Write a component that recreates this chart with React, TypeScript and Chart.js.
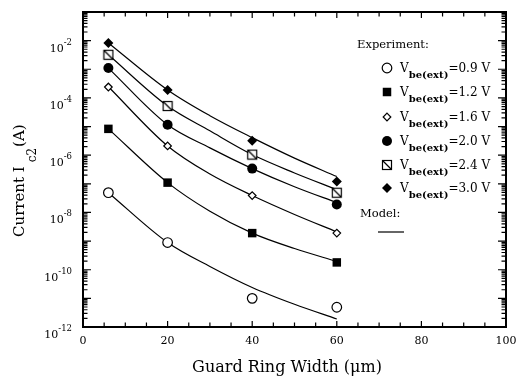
import React, { useEffect, useRef } from 'react';
import { Chart, registerables } from 'chart.js';

Chart.register(...registerables);

// ---- data ----
const guardWidths = [6, 20, 40, 60];
const ic2_09 = [4.9e-8, 8.9e-10, 1.0e-11, 4.9e-12];
const ic2_12 = [8.3e-6, 1.1e-7, 1.9e-9, 1.8e-10];
const ic2_16 = [2.4e-4, 2.1e-6, 3.9e-8, 1.9e-9];
const ic2_20 = [1.1e-3, 1.15e-5, 3.4e-7, 1.9e-8];
const ic2_24 = [3.2e-3, 5.2e-5, 1.05e-6, 4.9e-8];
const ic2_30 = [8.3e-3, 1.9e-4, 3.2e-6, 1.2e-7];

const modelWidths = [6, 20, 30, 40, 50, 60];
const model_09 = [4.9e-8, 8.9e-10, 1.3e-10, 2.4e-11, 6.2e-12, 1.9e-12];
const model_12 = [8.3e-6, 1.1e-7, 1.1e-8, 1.9e-9, 5.5e-10, 1.95e-10];
const model_16 = [2.45e-4, 2.1e-6, 2.2e-7, 3.9e-8, 8.5e-9, 2.1e-9];
const model_20 = [1.1e-3, 1.15e-5, 1.8e-6, 3.4e-7, 7.9e-8, 2.2e-8];
const model_24 = [3.2e-3, 5.2e-5, 7.1e-6, 1.05e-6, 2.4e-7, 6.3e-8];
const model_30 = [8.3e-3, 1.9e-4, 2.4e-5, 4.1e-6, 7.9e-7, 1.8e-7];

const voltageLabels = ['0.9', '1.2', '1.6', '2.0', '2.4', '3.0'];
const xTickLabels = [0, 20, 40, 60, 80, 100];
const yTickExponents = [-12, -10, -8, -6, -4, -2];

const SERIF = '"DejaVu Serif", serif';

type Kind = 'circleOpen' | 'squareFilled' | 'diamondOpen' | 'circleFilled' | 'boxSlash' | 'diamondFilled';
const kinds: Kind[] = ['circleOpen', 'squareFilled', 'diamondOpen', 'circleFilled', 'boxSlash', 'diamondFilled'];

const BOX = 10;
function makeBoxSlash(): HTMLCanvasElement {
  const c = document.createElement('canvas');
  c.width = BOX + 2;
  c.height = BOX + 2;
  const g = c.getContext('2d')!;
  g.fillStyle = '#fff';
  g.fillRect(1, 1, BOX, BOX);
  g.strokeStyle = '#000';
  g.lineWidth = 1.2;
  g.strokeRect(1.5, 1.5, BOX - 1, BOX - 1);
  g.beginPath();
  g.moveTo(1.5, 1.5);
  g.lineTo(BOX + 0.5, BOX + 0.5);
  g.stroke();
  return c;
}

function drawMarker(ctx: CanvasRenderingContext2D, kind: Kind, x: number, y: number, box: HTMLCanvasElement) {
  ctx.save();
  ctx.strokeStyle = '#000';
  ctx.lineWidth = 1.2;
  ctx.beginPath();
  if (kind === 'circleOpen') {
    ctx.arc(x, y, 4.8, 0, Math.PI * 2);
    ctx.fillStyle = '#fff';
    ctx.fill();
    ctx.stroke();
  } else if (kind === 'circleFilled') {
    ctx.arc(x, y, 5, 0, Math.PI * 2);
    ctx.fillStyle = '#000';
    ctx.fill();
  } else if (kind === 'squareFilled') {
    const s = 6 * Math.SQRT1_2;
    ctx.fillStyle = '#000';
    ctx.fillRect(x - s, y - s, 2 * s, 2 * s);
  } else if (kind === 'diamondOpen' || kind === 'diamondFilled') {
    const r = kind === 'diamondOpen' ? 3.8 : 5;
    ctx.moveTo(x, y - r);
    ctx.lineTo(x + r, y);
    ctx.lineTo(x, y + r);
    ctx.lineTo(x - r, y);
    ctx.closePath();
    if (kind === 'diamondOpen') {
      ctx.fillStyle = '#fff';
      ctx.fill();
      ctx.stroke();
    } else {
      ctx.fillStyle = '#000';
      ctx.fill();
    }
  } else if (kind === 'boxSlash') {
    ctx.drawImage(box, Math.round(x - box.width / 2), Math.round(y - box.height / 2));
  }
  ctx.restore();
}

function pointStyleFor(kind: Kind, box: HTMLCanvasElement) {
  switch (kind) {
    case 'circleOpen':
      return { pointStyle: 'circle', pointRadius: 4.8, pointBackgroundColor: '#fff', pointBorderColor: '#000', pointBorderWidth: 1.2 };
    case 'circleFilled':
      return { pointStyle: 'circle', pointRadius: 5, pointBackgroundColor: '#000', pointBorderColor: '#000', pointBorderWidth: 0 };
    case 'squareFilled':
      return { pointStyle: 'rect', pointRadius: 6, pointBackgroundColor: '#000', pointBorderColor: '#000', pointBorderWidth: 0 };
    case 'diamondOpen':
      return { pointStyle: 'rectRot', pointRadius: 3.8, pointBackgroundColor: '#fff', pointBorderColor: '#000', pointBorderWidth: 1.2 };
    case 'diamondFilled':
      return { pointStyle: 'rectRot', pointRadius: 5, pointBackgroundColor: '#000', pointBorderColor: '#000', pointBorderWidth: 0 };
    default:
      return { pointStyle: box, pointRadius: 5, pointBorderWidth: 0 };
  }
}

export default function App() {
  const ref = useRef<HTMLCanvasElement | null>(null);

  useEffect(() => {
    const canvas = ref.current;
    if (!canvas) return;
    const box = makeBoxSlash();

    const expSeries = [ic2_09, ic2_12, ic2_16, ic2_20, ic2_24, ic2_30];
    const modelSeries = [model_09, model_12, model_16, model_20, model_24, model_30];

    const datasets: any[] = [];
    modelSeries.forEach((vals, i) => {
      datasets.push({
        label: 'Model ' + voltageLabels[i],
        data: modelWidths.map((x, j) => ({ x, y: vals[j] })),
        showLine: true,
        borderColor: '#000',
        borderWidth: 1.2,
        pointRadius: 0,
        cubicInterpolationMode: 'monotone',
        order: 2,
      });
    });
    expSeries.forEach((vals, i) => {
      datasets.push({
        label: 'Vbe(ext)=' + voltageLabels[i] + ' V',
        data: guardWidths.map((x, j) => ({ x, y: vals[j] })),
        showLine: false,
        order: 1,
        ...pointStyleFor(kinds[i], box),
      });
    });

    const decor = {
      id: 'decor',
      afterDraw(chart: any) {
        const ctx: CanvasRenderingContext2D = chart.ctx;
        const { left, right, top, bottom } = chart.chartArea;
        const xs = chart.scales.x;
        const ys = chart.scales.y;
        ctx.save();
        ctx.strokeStyle = '#000';
        ctx.fillStyle = '#000';

        // frame
        ctx.lineWidth = 2;
        ctx.strokeRect(left, top, right - left, bottom - top);

        // y ticks (log, both sides, inward)
        ctx.lineWidth = 1.2;
        for (let e = -12; e <= -1; e++) {
          const p = ys.getPixelForValue(Math.pow(10, e));
          ctx.beginPath();
          ctx.moveTo(left, p); ctx.lineTo(left + 8, p);
          ctx.moveTo(right, p); ctx.lineTo(right - 8, p);
          ctx.stroke();
          if (e < -1) {
            for (let k = 2; k <= 9; k++) {
              const q = ys.getPixelForValue(k * Math.pow(10, e));
              ctx.beginPath();
              ctx.moveTo(left, q); ctx.lineTo(left + 4.5, q);
              ctx.moveTo(right, q); ctx.lineTo(right - 4.5, q);
              ctx.stroke();
            }
          }
        }
        // x ticks (bottom and top, inward)
        for (let v = 0; v <= 100; v += 5) {
          const p = xs.getPixelForValue(v);
          const len = v % 20 === 0 ? 6 : 4.5;
          ctx.beginPath();
          ctx.moveTo(p, bottom); ctx.lineTo(p, bottom - len);
          ctx.moveTo(p, top); ctx.lineTo(p, top + len);
          ctx.stroke();
        }

        // y tick labels 10^n
        ctx.textAlign = 'right';
        ctx.textBaseline = 'alphabetic';
        yTickExponents.forEach((e) => {
          const p = ys.getPixelForValue(Math.pow(10, e));
          const sup = String(e).replace('-', '-');
          ctx.font = '8.5px ' + SERIF;
          const supW = ctx.measureText(sup).width;
          const xr = left - 11;
          ctx.fillText(sup, xr, p + 4);
          ctx.font = '11px ' + SERIF;
          ctx.fillText('10', xr - supW, p + 11);
        });

        // x tick labels
        ctx.textAlign = 'center';
        ctx.textBaseline = 'middle';
        ctx.font = '11px ' + SERIF;
        xTickLabels.forEach((v) => {
          ctx.fillText(String(v), xs.getPixelForValue(v), bottom + 14);
        });

        // x title
        ctx.font = '16px ' + SERIF;
        ctx.fillText('Guard Ring Width (\u03bcm)', 287, 368);

        // y title (rotated) "Current I_c2(A)"
        ctx.save();
        ctx.translate(24, 237);
        ctx.rotate(-Math.PI / 2);
        ctx.textAlign = 'left';
        ctx.textBaseline = 'alphabetic';
        ctx.font = '15px ' + SERIF;
        const t1 = 'Current I';
        ctx.fillText(t1, 0, 0);
        let cx = ctx.measureText(t1).width + 4;
        ctx.font = '12px ' + SERIF;
        ctx.fillText('c2', cx, 12);
        cx += ctx.measureText('c2').width + 1;
        ctx.font = '15px ' + SERIF;
        ctx.fillText('(A)', cx, 0);
        ctx.restore();

        // legend
        ctx.textAlign = 'left';
        ctx.textBaseline = 'middle';
        ctx.font = '11.5px ' + SERIF;
        ctx.fillText('Experiment:', 357, 45);
        const rowsY = [68, 92, 117, 141, 165, 188];
        voltageLabels.forEach((lab, i) => {
          const y = rowsY[i];
          drawMarker(ctx, kinds[i], 387, y, box);
          ctx.textBaseline = 'alphabetic';
          let tx = 400;
          ctx.font = '12px ' + SERIF;
          ctx.fillText('V', tx, y + 4);
          tx += ctx.measureText('V').width;
          ctx.font = 'bold 10px ' + SERIF;
          ctx.fillText('be(ext)', tx, y + 9.5);
          tx += ctx.measureText('be(ext)').width;
          ctx.font = '12px ' + SERIF;
          ctx.fillText('=' + lab + ' V', tx, y + 4);
        });
        ctx.textBaseline = 'middle';
        ctx.font = '11.5px ' + SERIF;
        ctx.fillText('Model:', 360, 214);
        ctx.lineWidth = 1.2;
        ctx.beginPath();
        ctx.moveTo(378, 232);
        ctx.lineTo(404, 232);
        ctx.stroke();

        ctx.restore();
      },
    };

    const chart = new Chart(canvas, {
      type: 'scatter',
      data: { datasets },
      options: {
        responsive: false,
        animation: false,
        devicePixelRatio: 1,
        layout: { padding: { left: 83, right: 11, top: 12, bottom: 56 } },
        scales: {
          x: { type: 'linear', min: 0, max: 100, display: false },
          y: { type: 'logarithmic', min: 1e-12, max: 1e-1, display: false },
        },
        plugins: { legend: { display: false }, tooltip: { enabled: false } },
      },
      plugins: [decor],
    } as any);

    return () => chart.destroy();
  }, []);

  return (
    <div style={{ position: 'absolute', left: 0, top: 0, width: 517, height: 383, background: '#fff' }}>
      <canvas ref={ref} width={517} height={383} style={{ display: 'block', width: 517, height: 383 }} />
    </div>
  );
}
